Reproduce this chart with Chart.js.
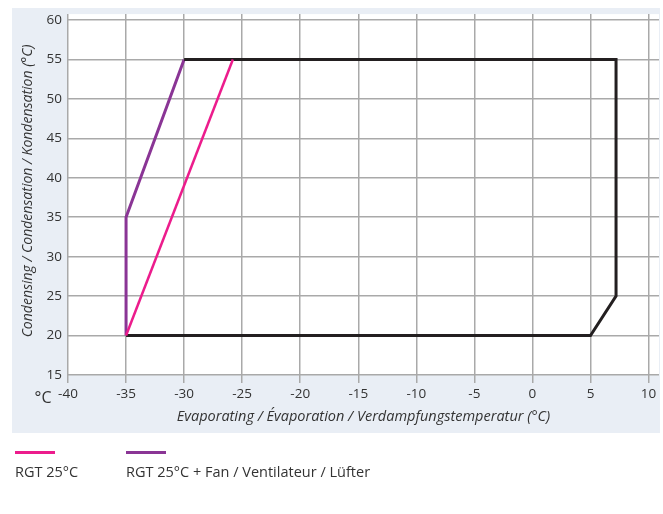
<!DOCTYPE html>
<html>
<head>
<meta charset="utf-8">
<script src="https://cdn.jsdelivr.net/npm/chart.js@4"></script>
<style>
  html, body { margin: 0; padding: 0; background: #fff; }
  #wrap { width: 663px; height: 514px; }
</style>
</head>
<body>
<div id="wrap"><canvas id="c" width="663" height="514"></canvas></div>
<script>
// Operating envelope (evaporating temp °C, condensing temp °C)
const envelopeX = [-30, 7.2, 7.2, 5, -35];
const envelopeY = [55, 55, 25, 20, 20];

// RGT 25°C limit
const rgtX = [-35, -25.8];
const rgtY = [20, 55];

// RGT 25°C with fan limit
const fanX = [-35, -35, -30];
const fanY = [20, 35, 55];

const xTicks = [-40, -35, -30, -25, -20, -15, -10, -5, 0, 5, 10];
const yTicks = [15, 20, 25, 30, 35, 40, 45, 50, 55, 60];

const seriesLabels = ['RGT 25°C', 'RGT 25°C + Fan / Ventilateur / Lüfter'];
const xTitle = 'Evaporating / Évaporation / Verdampfungstemperatur (°C)';
const yTitle = 'Condensing / Condensation / Kondensation (°C)';
const unitLabel = '°C';

const pts = (xs, ys) => xs.map((x, i) => ({ x: x, y: ys[i] }));

const FONT = '"Open Sans", "Noto Sans", sans-serif';
const TEXT = '#333333';
const GRID = '#a9a9a9';

// Panel background + white plotting area
const panelBg = {
  id: 'panelBg',
  beforeDraw(chart) {
    const { ctx, chartArea: a } = chart;
    ctx.save();
    ctx.fillStyle = '#e9eef5';
    ctx.fillRect(12, 8, 648, 425);
    ctx.fillStyle = '#ffffff';
    ctx.fillRect(a.left, a.top, a.right - a.left, a.bottom - a.top);
    ctx.restore();
  }
};

// Vertical axis title, unit marker beside the first x tick, and the legend underneath
const extras = {
  id: 'extras',
  afterDraw(chart) {
    const { ctx, chartArea: a } = chart;
    ctx.save();

    ctx.save();
    ctx.translate(28, 191);
    ctx.rotate(-Math.PI / 2);
    ctx.fillStyle = TEXT;
    ctx.font = 'italic 14px ' + FONT;
    ctx.textAlign = 'center';
    ctx.textBaseline = 'middle';
    ctx.fillText(yTitle, 0, 0);
    ctx.restore();

    ctx.fillStyle = TEXT;
    ctx.font = '16px ' + FONT;
    ctx.textAlign = 'center';
    ctx.textBaseline = 'middle';
    ctx.fillText(unitLabel, 43, a.bottom + 23);

    const items = [
      { ds: chart.data.datasets[1], x: 15 },
      { ds: chart.data.datasets[2], x: 126 }
    ];
    items.forEach(it => {
      ctx.strokeStyle = it.ds.borderColor;
      ctx.lineWidth = 3;
      ctx.beginPath();
      ctx.moveTo(it.x, 452.5);
      ctx.lineTo(it.x + 40, 452.5);
      ctx.stroke();
      ctx.fillStyle = TEXT;
      ctx.font = '14.5px ' + FONT;
      ctx.textAlign = 'left';
      ctx.textBaseline = 'middle';
      ctx.fillText(it.ds.label, it.x, 473);
    });
    ctx.restore();
  }
};

new Chart(document.getElementById('c'), {
  type: 'scatter',
  data: {
    datasets: [
      {
        label: 'Envelope',
        data: pts(envelopeX, envelopeY),
        showLine: true,
        borderColor: '#231f20',
        borderWidth: 3,
        pointRadius: 0,
        fill: false,
        tension: 0
      },
      {
        label: seriesLabels[0],
        data: pts(rgtX, rgtY),
        showLine: true,
        borderColor: '#ec1c8c',
        borderWidth: 2.5,
        pointRadius: 0,
        fill: false,
        order: -1
      },
      {
        label: seriesLabels[1],
        data: pts(fanX, fanY),
        showLine: true,
        borderColor: '#8a3595',
        borderWidth: 3,
        pointRadius: 0,
        fill: false
      }
    ]
  },
  options: {
    responsive: false,
    animation: false,
    layout: { padding: { left: 12, top: 9, right: 4, bottom: 81 } },
    plugins: {
      legend: { display: false },
      tooltip: { enabled: false }
    },
    scales: {
      x: {
        type: 'linear',
        min: -40,
        max: 10.9,
        afterBuildTicks(scale) { scale.ticks = xTicks.map(v => ({ value: v })); },
        afterFit(scale) { scale.height = 58; },
        border: { display: false },
        grid: { color: GRID, lineWidth: 1.5, tickLength: 8, drawTicks: true },
        ticks: { color: TEXT, font: { family: FONT, size: 13.5 }, padding: 3, maxRotation: 0 },
        title: {
          display: true,
          text: xTitle,
          color: TEXT,
          font: { family: FONT, size: 14.5, style: 'italic' },
          padding: { top: 0, bottom: 7 }
        }
      },
      y: {
        type: 'linear',
        min: 15,
        max: 60.75,
        afterBuildTicks(scale) { scale.ticks = yTicks.map(v => ({ value: v })); },
        afterFit(scale) { scale.width = 56; },
        border: { display: false },
        grid: { color: GRID, lineWidth: 1.5, drawTicks: false },
        ticks: { color: TEXT, font: { family: FONT, size: 13.5 }, padding: 6 },
        title: { display: false }
      }
    }
  },
  plugins: [panelBg, extras]
});
</script>
</body>
</html>
